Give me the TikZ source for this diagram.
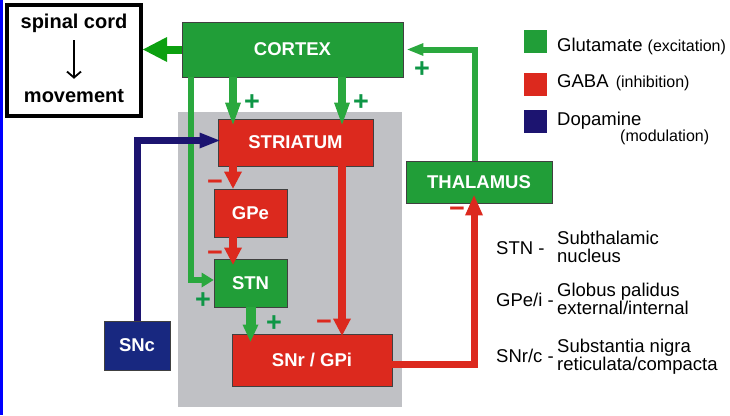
\documentclass[tikz,border=0pt]{standalone}
\usepackage{fontspec}
\setmainfont{Liberation Sans}
\usetikzlibrary{arrows.meta}
\definecolor{glu}{RGB}{33,158,56}
\definecolor{gluarrow}{RGB}{42,168,62}
\definecolor{spinegreen}{RGB}{12,160,16}
\definecolor{gaba}{RGB}{220,41,30}
\definecolor{dopa}{RGB}{28,20,112}
\definecolor{snc}{RGB}{24,40,128}
\definecolor{basal}{RGB}{192,193,197}
\definecolor{plus}{RGB}{14,150,70}
\begin{document}
\begin{tikzpicture}[x=1pt,y=-1pt,
  nucleus/.style={draw=black!75,line width=0.8pt,text=white,inner sep=0pt,
    font=\bfseries\fontsize{18.5}{20}\selectfont},
  excite/.style={nucleus,fill=glu},
  inhibit/.style={nucleus,fill=gaba},
  gluline/.style={draw=gluarrow,line width=8pt,-{Triangle[length=22pt,width=16pt,line width=0pt]}},
  gabaline/.style={draw=gaba,line width=8pt,-{Triangle[length=17pt,width=18pt,line width=0pt]}},
  sign/.style={inner sep=0pt,font=\bfseries\fontsize{27}{28}\selectfont},
  term/.style={inner sep=0pt,anchor=base west,font=\fontsize{18.5}{20}\selectfont}]
\useasboundingbox (0,0) rectangle (730,415);
\fill[blue] (0,0) rectangle (3,415);
\fill[basal] (178,112) rectangle (402,407);

\node[draw,line width=4pt,minimum width=134pt,minimum height=111pt] (spinal) at (74,60.5) {};
\node[anchor=base,inner sep=0pt,font=\bfseries\fontsize{20}{24}\selectfont] (spin) at (74,28) {spinal cord};
\node[anchor=base,inner sep=0pt,font=\bfseries\fontsize{20}{24}\selectfont] (move) at (74,102) {movement};
\draw[line width=1.8pt,-{Straight Barb[length=6pt,width=14pt]},shorten <=8pt,shorten >=10pt] (spin) -- (move);

\node[excite,minimum width=221pt,minimum height=55pt] (cortex) at (292.5,49.5) {CORTEX};
\node[inhibit,minimum width=155pt,minimum height=47pt] (striatum) at (295.5,142.5) {STRIATUM};
\node[inhibit,minimum width=73pt,minimum height=48pt] (gpe) at (250.5,213) {GPe};
\node[excite,minimum width=73pt,minimum height=48pt] (stn) at (250.5,283) {STN};
\node[inhibit,minimum width=160pt,minimum height=52pt] (snr) at (312,360) {SNr / GPi};
\node[excite,minimum width=146pt,minimum height=42pt] (thalamus) at (479,182) {THALAMUS};
\node[nucleus,fill=snc,minimum width=66pt,minimum height=49pt] (snc) at (137,345.5) {SNc};

\coordinate (leftcol) at (233,0);
\coordinate (rightcol) at (342,0);
\coordinate (sidecol) at (191,0);

\draw[draw=spinegreen,line width=8pt,-{Triangle[length=24pt,width=25pt,line width=0pt]}] (cortex.west) -- (cortex.west -| spinal.east);
\draw[gluline,shorten >=-6pt] (leftcol |- cortex.south) -- (leftcol |- striatum.north);
\draw[gluline,shorten >=-6pt] (rightcol |- cortex.south) -- (rightcol |- striatum.north);
\draw[gluline,line width=6pt,-{Triangle[length=12pt,width=15pt,line width=0pt]}] (sidecol |- cortex.south) |- ([yshift=3pt]stn.west);
\draw[gabaline] (leftcol |- striatum.south) -- (leftcol |- gpe.north);
\draw[gabaline,shorten >=-6pt] (leftcol |- gpe.south) -- (leftcol |- stn.north);
\draw[gabaline,shorten >=-2pt] (rightcol |- striatum.south) -- (rightcol |- snr.north);
\draw[gluline,line width=10pt,-{Triangle[length=17pt,width=16pt,line width=0pt]},shorten >=-8pt] (stn.south) -- (stn.south |- snr.north);
\draw[gabaline,line width=7pt,-{Triangle[length=20pt,width=18pt,line width=0pt]},shorten >=-8pt] ([yshift=-4pt]snr.east) -| ([xshift=-5pt]thalamus.south);
\draw[gluline,line width=6pt,-{Triangle[length=16pt,width=13pt,line width=0pt]},shorten >=4pt] ([xshift=-4pt]thalamus.north) |- (cortex.east);
\draw[draw=dopa,line width=7pt,-{Triangle[length=20pt,width=16pt,line width=0pt]},shorten >=-2pt] (snc.north) |- ([yshift=2pt]striatum.west);

\foreach \x/\y/\c/\s [count=\i] in {252/103/plus/+, 361/103/plus/+, 215/185/gaba/−, 215/256/gaba/−,
  203/301/plus/+, 274/324/plus/+, 324/325/gaba/−, 457/212/gaba/−, 422/70/plus/+}
  \node[sign,text=\c] (sign\i) at (\x,\y) {\s};

\node[fill=glu,minimum size=23pt,inner sep=0pt] (keyglu) at (535.5,41.5) {};
\node[fill=gaba,minimum size=23pt,inner sep=0pt] (keygaba) at (535.5,84) {};
\node[fill=dopa,minimum size=23pt,inner sep=0pt] (keydopa) at (535.5,121.5) {};
\node[term] (glutext) at (557,51) {Glutamate {\fontsize{16}{18}\selectfont(excitation)}};
\node[term] (gabatext) at (557,87.7) {GABA\hspace{2pt} {\fontsize{16}{18}\selectfont(inhibition)}};
\node[term] (dopatext) at (557,125) {Dopamine};
\node[term,font=\fontsize{16}{18}\selectfont] (dopanote) at (620,141) {(modulation)};

\foreach \abbr/\first/\second/\y [count=\i] in {STN -/Subthalamic/nucleus/244,
  {GPe/i -}/{Globus palidus}/{external/internal}/296,
  {SNr/c -}/{Substantia nigra}/{reticulata/compacta}/352}{
  \node[term] (abbr\i) at (496,\y+10) {\abbr};
  \node[term] (name\i) at (557,\y) {\first};
  \node[term] (nameb\i) at (557,\y+18.5) {\second};
}
\end{tikzpicture}
\end{document}
